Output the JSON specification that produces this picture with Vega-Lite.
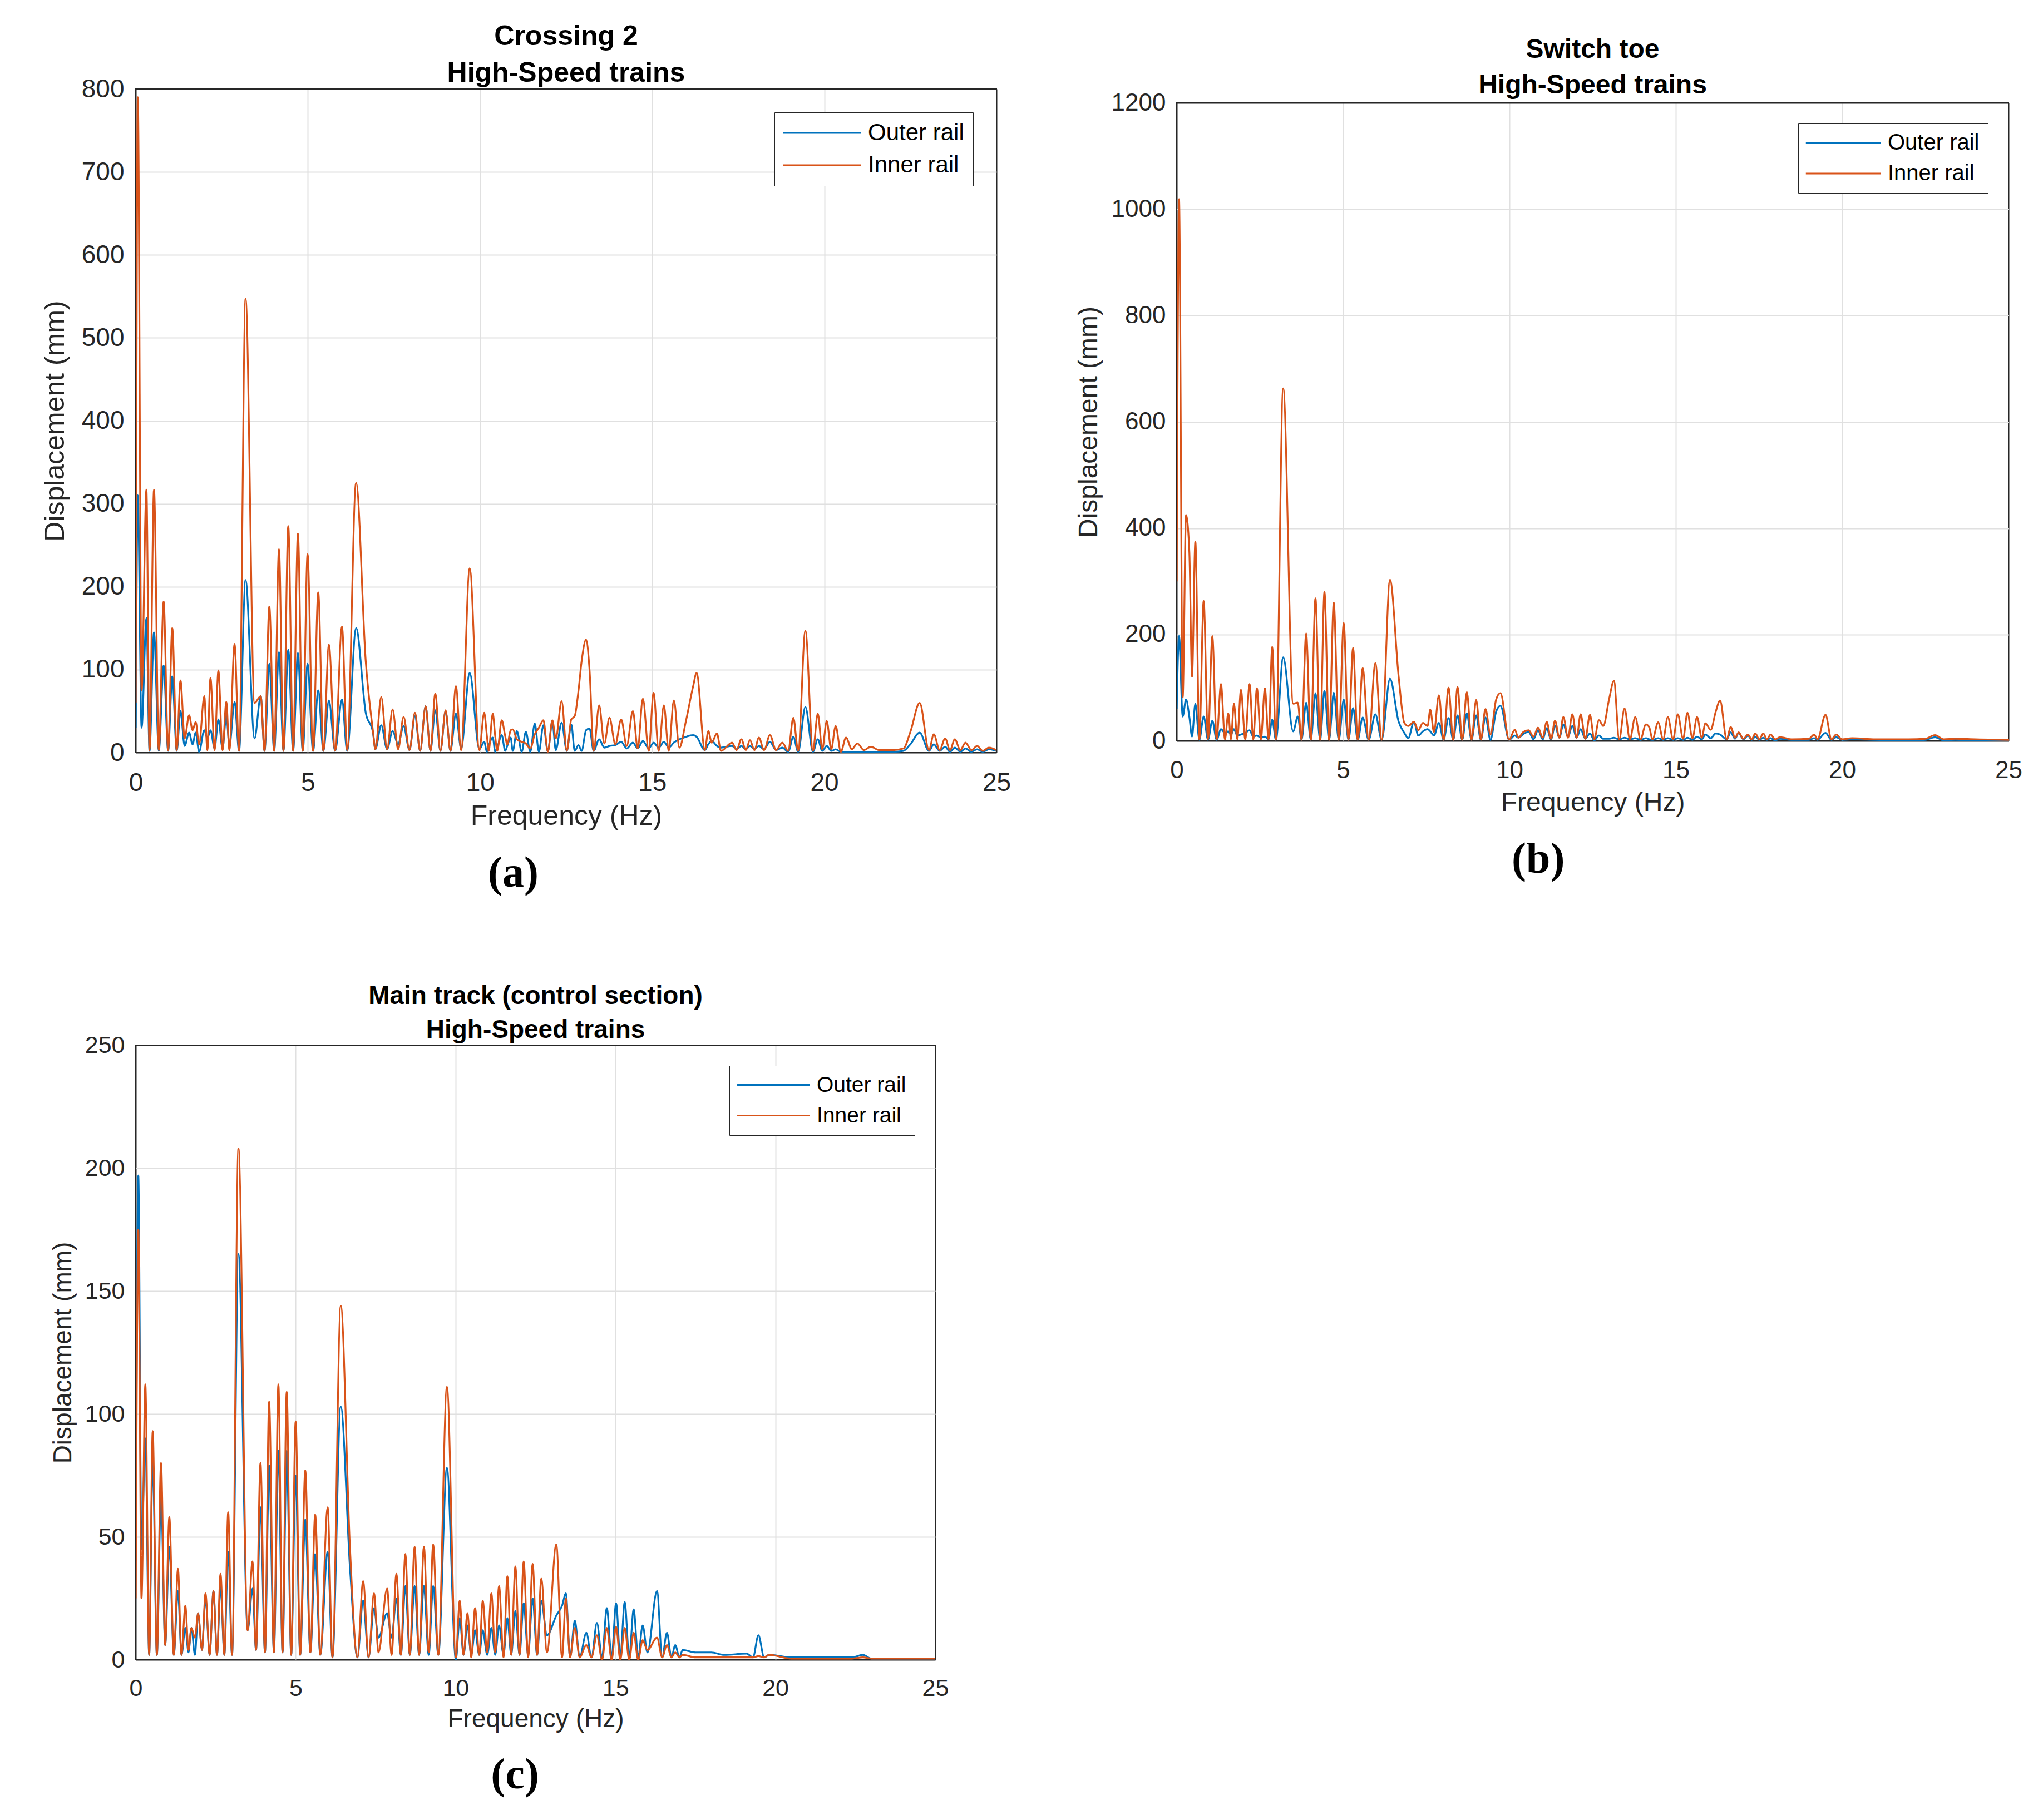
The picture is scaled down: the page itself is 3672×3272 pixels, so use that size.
{
"$schema":"https://vega.github.io/schema/vega-lite/v6.json",
"padding":{"left":73,"top":40,"right":20,"bottom":10},
"config":{
 "font":"Liberation Sans",
 "view":{"stroke":"#262626","strokeWidth":2},
 "axis":{"ticks":false,"domain":false,"grid":true,"gridWidth":2,"labelColor":"#262626","titleColor":"#262626","titleFontWeight":"normal","labelFont":"Liberation Sans","titleFont":"Liberation Sans","labelFlush":false},
 "title":{"font":"Liberation Sans","fontWeight":"bold","color":"#000000","anchor":"middle"},
 "legend":{"labelFont":"Liberation Sans","labelColor":"#000000","strokeColor":"#262626","fillColor":"#ffffff","cornerRadius":0,"symbolStrokeWidth":3,"labelLimit":0,"symbolType":"M-2.2,0H11.8"}
},
"datasets":{
"a":[{"f":0,"o":30,"i":60},{"f":0.06,"o":310,"i":790},{"f":0.17,"o":30,"i":75},{"f":0.31,"o":162,"i":317},{"f":0.40,"o":2,"i":3},{"f":0.53,"o":145,"i":317},{"f":0.67,"o":2,"i":3},{"f":0.81,"o":105,"i":182},{"f":0.94,"o":2,"i":3},{"f":1.06,"o":92,"i":150},{"f":1.19,"o":2,"i":3},{"f":1.30,"o":50,"i":87},{"f":1.42,"o":8,"i":17},{"f":1.55,"o":24,"i":45},{"f":1.65,"o":10,"i":27},{"f":1.74,"o":24,"i":37},{"f":1.84,"o":1,"i":10},{"f":1.99,"o":27,"i":68},{"f":2.08,"o":17,"i":3},{"f":2.17,"o":27,"i":90},{"f":2.29,"o":5,"i":3},{"f":2.40,"o":40,"i":99},{"f":2.52,"o":5,"i":3},{"f":2.63,"o":45,"i":61},{"f":2.72,"o":8,"i":3},{"f":2.87,"o":61,"i":131},{"f":3.00,"o":2,"i":2},{"f":3.19,"o":208,"i":547},{"f":3.45,"o":17,"i":60},{"f":3.63,"o":68,"i":68},{"f":3.74,"o":2,"i":2},{"f":3.88,"o":107,"i":176},{"f":4.02,"o":2,"i":2},{"f":4.16,"o":121,"i":245},{"f":4.29,"o":2,"i":2},{"f":4.43,"o":124,"i":273},{"f":4.57,"o":2,"i":2},{"f":4.71,"o":120,"i":264},{"f":4.85,"o":2,"i":2},{"f":4.99,"o":107,"i":239},{"f":5.15,"o":2,"i":2},{"f":5.30,"o":75,"i":193},{"f":5.45,"o":2,"i":2},{"f":5.61,"o":63,"i":130},{"f":5.79,"o":2,"i":2},{"f":5.99,"o":64,"i":152},{"f":6.14,"o":2,"i":3},{"f":6.40,"o":150,"i":325},{"f":6.68,"o":48,"i":110},{"f":6.89,"o":24,"i":26},{"f":6.96,"o":4,"i":4},{"f":7.13,"o":33,"i":67},{"f":7.30,"o":4,"i":4},{"f":7.46,"o":26,"i":52},{"f":7.62,"o":10,"i":4},{"f":7.78,"o":32,"i":43},{"f":7.95,"o":3,"i":3},{"f":8.11,"o":44,"i":48},{"f":8.26,"o":2,"i":2},{"f":8.42,"o":56,"i":56},{"f":8.56,"o":2,"i":2},{"f":8.70,"o":51,"i":71},{"f":8.85,"o":2,"i":2},{"f":9.00,"o":50,"i":51},{"f":9.14,"o":2,"i":2},{"f":9.30,"o":47,"i":80},{"f":9.45,"o":5,"i":3},{"f":9.70,"o":96,"i":222},{"f":9.98,"o":4,"i":3},{"f":10.12,"o":13,"i":48},{"f":10.20,"o":1,"i":20},{"f":10.25,"o":8,"i":2},{"f":10.37,"o":18,"i":47},{"f":10.44,"o":1,"i":20},{"f":10.50,"o":6,"i":2},{"f":10.63,"o":21,"i":39},{"f":10.73,"o":2,"i":20},{"f":10.79,"o":8,"i":10},{"f":10.89,"o":18,"i":27},{"f":10.95,"o":2,"i":28},{"f":11.07,"o":26,"i":16},{"f":11.21,"o":1,"i":13},{"f":11.33,"o":25,"i":11},{"f":11.46,"o":1,"i":5},{"f":11.59,"o":35,"i":22},{"f":11.71,"o":1,"i":30},{"f":11.84,"o":33,"i":39},{"f":11.97,"o":1,"i":1},{"f":12.10,"o":38,"i":39},{"f":12.20,"o":3,"i":17},{"f":12.37,"o":36,"i":62},{"f":12.52,"o":2,"i":2},{"f":12.65,"o":34,"i":40},{"f":12.75,"o":2,"i":44},{"f":12.86,"o":9,"i":75},{"f":12.95,"o":2,"i":110},{"f":13.08,"o":27,"i":136},{"f":13.18,"o":29,"i":100},{"f":13.30,"o":2,"i":2},{"f":13.46,"o":16,"i":57},{"f":13.61,"o":6,"i":11},{"f":13.76,"o":8,"i":42},{"f":13.93,"o":9,"i":10},{"f":14.10,"o":13,"i":40},{"f":14.26,"o":5,"i":8},{"f":14.44,"o":12,"i":50},{"f":14.58,"o":5,"i":5},{"f":14.73,"o":14,"i":65},{"f":14.90,"o":5,"i":2},{"f":15.04,"o":12,"i":72},{"f":15.19,"o":6,"i":2},{"f":15.34,"o":13,"i":57},{"f":15.48,"o":6,"i":2},{"f":15.63,"o":12,"i":63},{"f":15.79,"o":16,"i":6},{"f":15.98,"o":19,"i":38},{"f":16.19,"o":21,"i":80},{"f":16.29,"o":19,"i":96},{"f":16.53,"o":3,"i":3},{"f":16.63,"o":10,"i":26},{"f":16.73,"o":14,"i":12},{"f":16.88,"o":8,"i":23},{"f":17.00,"o":6,"i":2},{"f":17.32,"o":8,"i":12},{"f":17.45,"o":4,"i":3},{"f":17.59,"o":8,"i":16},{"f":17.72,"o":4,"i":3},{"f":17.84,"o":8,"i":15},{"f":17.97,"o":4,"i":3},{"f":18.10,"o":8,"i":18},{"f":18.25,"o":4,"i":3},{"f":18.42,"o":13,"i":21},{"f":18.60,"o":3,"i":3},{"f":18.78,"o":6,"i":12},{"f":18.95,"o":1,"i":2},{"f":19.10,"o":19,"i":42},{"f":19.24,"o":1,"i":2},{"f":19.45,"o":55,"i":147},{"f":19.67,"o":1,"i":2},{"f":19.81,"o":16,"i":47},{"f":19.94,"o":2,"i":4},{"f":20.07,"o":8,"i":38},{"f":20.20,"o":2,"i":4},{"f":20.33,"o":4,"i":32},{"f":20.48,"o":1,"i":1},{"f":20.63,"o":1,"i":18},{"f":20.80,"o":1,"i":4},{"f":20.96,"o":1,"i":11},{"f":21.15,"o":1,"i":3},{"f":21.35,"o":1,"i":7},{"f":21.60,"o":1,"i":3},{"f":22.00,"o":1,"i":3},{"f":22.30,"o":2,"i":5},{"f":22.50,"o":10,"i":25},{"f":22.77,"o":24,"i":60},{"f":23.04,"o":2,"i":3},{"f":23.18,"o":10,"i":22},{"f":23.35,"o":2,"i":3},{"f":23.51,"o":7,"i":17},{"f":23.65,"o":1,"i":3},{"f":23.79,"o":6,"i":16},{"f":23.95,"o":1,"i":3},{"f":24.10,"o":5,"i":12},{"f":24.27,"o":1,"i":3},{"f":24.44,"o":4,"i":8},{"f":24.60,"o":1,"i":2},{"f":24.78,"o":4,"i":6},{"f":25,"o":2,"i":3}],
"b":[{"f":0,"o":60,"i":300},{"f":0.07,"o":197,"i":1019},{"f":0.18,"o":46,"i":82},{"f":0.28,"o":78,"i":425},{"f":0.38,"o":45,"i":355},{"f":0.46,"o":8,"i":121},{"f":0.56,"o":70,"i":375},{"f":0.68,"o":2,"i":3},{"f":0.81,"o":46,"i":263},{"f":0.94,"o":2,"i":3},{"f":1.07,"o":38,"i":197},{"f":1.20,"o":2,"i":3},{"f":1.33,"o":22,"i":107},{"f":1.45,"o":15,"i":3},{"f":1.55,"o":18,"i":52},{"f":1.63,"o":12,"i":3},{"f":1.72,"o":22,"i":70},{"f":1.82,"o":10,"i":3},{"f":1.93,"o":12,"i":96},{"f":2.06,"o":15,"i":3},{"f":2.19,"o":20,"i":107},{"f":2.30,"o":8,"i":3},{"f":2.41,"o":10,"i":99},{"f":2.53,"o":6,"i":3},{"f":2.65,"o":8,"i":99},{"f":2.76,"o":3,"i":3},{"f":2.87,"o":40,"i":177},{"f":2.98,"o":2,"i":2},{"f":3.20,"o":157,"i":663},{"f":3.50,"o":18,"i":70},{"f":3.64,"o":46,"i":72},{"f":3.75,"o":2,"i":2},{"f":3.89,"o":72,"i":202},{"f":4.03,"o":2,"i":2},{"f":4.17,"o":90,"i":268},{"f":4.31,"o":2,"i":2},{"f":4.44,"o":94,"i":280},{"f":4.58,"o":2,"i":2},{"f":4.72,"o":91,"i":260},{"f":4.87,"o":2,"i":2},{"f":5.02,"o":78,"i":222},{"f":5.16,"o":2,"i":2},{"f":5.30,"o":62,"i":175},{"f":5.44,"o":2,"i":2},{"f":5.59,"o":44,"i":137},{"f":5.77,"o":2,"i":2},{"f":5.97,"o":50,"i":146},{"f":6.16,"o":2,"i":2},{"f":6.41,"o":117,"i":303},{"f":6.67,"o":36,"i":121},{"f":6.84,"o":15,"i":34},{"f":6.96,"o":5,"i":28},{"f":7.13,"o":36,"i":36},{"f":7.26,"o":10,"i":20},{"f":7.40,"o":18,"i":34},{"f":7.54,"o":22,"i":28},{"f":7.62,"o":18,"i":59},{"f":7.73,"o":10,"i":17},{"f":7.88,"o":34,"i":86},{"f":8.02,"o":2,"i":2},{"f":8.17,"o":43,"i":100},{"f":8.31,"o":2,"i":2},{"f":8.44,"o":48,"i":101},{"f":8.58,"o":2,"i":2},{"f":8.72,"o":52,"i":92},{"f":8.86,"o":2,"i":2},{"f":9.00,"o":48,"i":77},{"f":9.14,"o":2,"i":2},{"f":9.28,"o":44,"i":60},{"f":9.43,"o":2,"i":12},{"f":9.60,"o":55,"i":78},{"f":9.73,"o":66,"i":90},{"f":9.99,"o":2,"i":2},{"f":10.16,"o":10,"i":21},{"f":10.27,"o":6,"i":6},{"f":10.42,"o":13,"i":17},{"f":10.58,"o":17,"i":20},{"f":10.72,"o":3,"i":8},{"f":10.86,"o":20,"i":25},{"f":11.00,"o":3,"i":6},{"f":11.12,"o":24,"i":36},{"f":11.25,"o":3,"i":4},{"f":11.37,"o":29,"i":38},{"f":11.50,"o":6,"i":6},{"f":11.62,"o":31,"i":45},{"f":11.76,"o":8,"i":6},{"f":11.89,"o":28,"i":50},{"f":12.02,"o":6,"i":6},{"f":12.14,"o":22,"i":50},{"f":12.28,"o":4,"i":4},{"f":12.42,"o":14,"i":49},{"f":12.55,"o":1,"i":3},{"f":12.69,"o":10,"i":39},{"f":12.82,"o":4,"i":28},{"f":13.00,"o":4,"i":80},{"f":13.14,"o":6,"i":113},{"f":13.30,"o":3,"i":3},{"f":13.46,"o":6,"i":61},{"f":13.62,"o":3,"i":3},{"f":13.78,"o":5,"i":45},{"f":13.94,"o":2,"i":3},{"f":14.10,"o":5,"i":31},{"f":14.20,"o":3,"i":26},{"f":14.30,"o":2,"i":3},{"f":14.47,"o":5,"i":35},{"f":14.62,"o":2,"i":3},{"f":14.76,"o":5,"i":45},{"f":14.92,"o":2,"i":3},{"f":15.06,"o":5,"i":50},{"f":15.22,"o":2,"i":4},{"f":15.35,"o":6,"i":53},{"f":15.50,"o":2,"i":5},{"f":15.64,"o":8,"i":45},{"f":15.78,"o":3,"i":6},{"f":15.89,"o":12,"i":33},{"f":16.05,"o":5,"i":21},{"f":16.20,"o":14,"i":55},{"f":16.33,"o":12,"i":76},{"f":16.53,"o":3,"i":3},{"f":16.65,"o":16,"i":26},{"f":16.78,"o":4,"i":6},{"f":16.89,"o":15,"i":16},{"f":17.03,"o":3,"i":4},{"f":17.17,"o":10,"i":12},{"f":17.28,"o":2,"i":3},{"f":17.39,"o":8,"i":14},{"f":17.51,"o":2,"i":3},{"f":17.63,"o":6,"i":14},{"f":17.74,"o":2,"i":3},{"f":17.85,"o":5,"i":12},{"f":17.99,"o":1,"i":3},{"f":18.13,"o":4,"i":7},{"f":18.50,"o":2,"i":3},{"f":19.00,"o":2,"i":4},{"f":19.16,"o":5,"i":12},{"f":19.26,"o":2,"i":3},{"f":19.50,"o":15,"i":49},{"f":19.68,"o":2,"i":3},{"f":19.82,"o":7,"i":12},{"f":20.00,"o":2,"i":3},{"f":20.30,"o":3,"i":5},{"f":21.00,"o":2,"i":3},{"f":22.00,"o":1,"i":3},{"f":22.50,"o":2,"i":4},{"f":22.79,"o":7,"i":11},{"f":23.05,"o":1,"i":3},{"f":23.40,"o":2,"i":4},{"f":24.00,"o":1,"i":3},{"f":25,"o":1,"i":2}],
"c":[{"f":0,"o":40,"i":25},{"f":0.08,"o":197,"i":175},{"f":0.18,"o":45,"i":25},{"f":0.30,"o":90,"i":112},{"f":0.42,"o":2,"i":2},{"f":0.53,"o":82,"i":93},{"f":0.66,"o":2,"i":2},{"f":0.79,"o":67,"i":80},{"f":0.92,"o":6,"i":6},{"f":1.05,"o":46,"i":58},{"f":1.19,"o":2,"i":2},{"f":1.32,"o":28,"i":37},{"f":1.43,"o":2,"i":2},{"f":1.55,"o":13,"i":22},{"f":1.65,"o":3,"i":4},{"f":1.74,"o":13,"i":13},{"f":1.85,"o":2,"i":9},{"f":1.95,"o":19,"i":19},{"f":2.07,"o":4,"i":4},{"f":2.18,"o":25,"i":27},{"f":2.31,"o":2,"i":2},{"f":2.43,"o":28,"i":28},{"f":2.54,"o":2,"i":2},{"f":2.65,"o":30,"i":35},{"f":2.77,"o":2,"i":2},{"f":2.89,"o":44,"i":60},{"f":3.01,"o":2,"i":2},{"f":3.21,"o":165,"i":208},{"f":3.50,"o":12,"i":12},{"f":3.65,"o":29,"i":40},{"f":3.76,"o":4,"i":4},{"f":3.90,"o":62,"i":80},{"f":4.04,"o":3,"i":3},{"f":4.17,"o":79,"i":105},{"f":4.32,"o":3,"i":3},{"f":4.46,"o":85,"i":112},{"f":4.59,"o":3,"i":3},{"f":4.72,"o":85,"i":109},{"f":4.86,"o":2,"i":2},{"f":5.00,"o":75,"i":97},{"f":5.14,"o":2,"i":2},{"f":5.30,"o":57,"i":77},{"f":5.46,"o":3,"i":3},{"f":5.61,"o":43,"i":59},{"f":5.77,"o":2,"i":2},{"f":6.00,"o":44,"i":62},{"f":6.15,"o":1,"i":1},{"f":6.41,"o":103,"i":144},{"f":6.70,"o":37,"i":45},{"f":6.93,"o":1,"i":1},{"f":7.11,"o":24,"i":32},{"f":7.28,"o":1,"i":1},{"f":7.45,"o":21,"i":27},{"f":7.59,"o":9,"i":3},{"f":7.86,"o":19,"i":29},{"f":8.00,"o":9,"i":2},{"f":8.15,"o":25,"i":35},{"f":8.29,"o":2,"i":2},{"f":8.43,"o":30,"i":43},{"f":8.57,"o":2,"i":2},{"f":8.72,"o":30,"i":46},{"f":8.86,"o":2,"i":2},{"f":9.01,"o":30,"i":46},{"f":9.16,"o":2,"i":3},{"f":9.30,"o":30,"i":47},{"f":9.46,"o":2,"i":2},{"f":9.73,"o":78,"i":111},{"f":10.01,"o":0,"i":1},{"f":10.13,"o":17,"i":24},{"f":10.25,"o":2,"i":2},{"f":10.37,"o":14,"i":19},{"f":10.49,"o":2,"i":1},{"f":10.61,"o":12,"i":21},{"f":10.74,"o":2,"i":2},{"f":10.85,"o":12,"i":24},{"f":10.99,"o":2,"i":3},{"f":11.12,"o":13,"i":27},{"f":11.24,"o":2,"i":3},{"f":11.36,"o":14,"i":30},{"f":11.50,"o":2,"i":1},{"f":11.62,"o":17,"i":34},{"f":11.74,"o":2,"i":2},{"f":11.87,"o":20,"i":38},{"f":12.00,"o":2,"i":2},{"f":12.13,"o":23,"i":40},{"f":12.27,"o":2,"i":1},{"f":12.41,"o":25,"i":39},{"f":12.55,"o":2,"i":2},{"f":12.68,"o":24,"i":33},{"f":12.86,"o":10,"i":3},{"f":13.15,"o":18,"i":47},{"f":13.33,"o":22,"i":1},{"f":13.45,"o":27,"i":25},{"f":13.58,"o":1,"i":1},{"f":13.73,"o":16,"i":13},{"f":13.88,"o":1,"i":1},{"f":14.09,"o":11,"i":6},{"f":14.25,"o":1,"i":1},{"f":14.42,"o":15,"i":10},{"f":14.58,"o":1,"i":0},{"f":14.73,"o":21,"i":13},{"f":14.88,"o":1,"i":0},{"f":15.02,"o":23,"i":13.5},{"f":15.15,"o":1,"i":0},{"f":15.29,"o":23.5,"i":13},{"f":15.43,"o":1,"i":0},{"f":15.57,"o":20.5,"i":11},{"f":15.71,"o":1,"i":0},{"f":15.85,"o":14,"i":8},{"f":16.00,"o":3,"i":4},{"f":16.30,"o":28,"i":9},{"f":16.46,"o":1,"i":1},{"f":16.61,"o":11,"i":6},{"f":16.75,"o":1,"i":1},{"f":16.87,"o":6,"i":3},{"f":17.00,"o":1,"i":1},{"f":17.10,"o":4,"i":2},{"f":17.50,"o":3,"i":1},{"f":18.00,"o":3,"i":1},{"f":18.40,"o":2,"i":1},{"f":19.10,"o":2.5,"i":1},{"f":19.30,"o":1,"i":1},{"f":19.47,"o":10,"i":1.5},{"f":19.65,"o":1,"i":1},{"f":19.80,"o":2,"i":2},{"f":20.50,"o":1,"i":0.5},{"f":22.40,"o":1,"i":0.5},{"f":22.74,"o":2,"i":1},{"f":23.00,"o":0.5,"i":0.5},{"f":25,"o":0.5,"i":0.5}]
},
"vconcat":[
 {"hconcat":[
  {"vconcat":[
   {"width":1547,"height":1193,
    "data":{"name":"a"},
    "transform":[{"fold":["o","i"],"as":["s","v"]}],
    "title":{"text":["Crossing 2","High-Speed trains"],"fontSize":50,"lineHeight":66,"offset":-20},
    "mark":{"type":"line","interpolate":"monotone","strokeWidth":3.2,"clip":true},
    "encoding":{
     "x":{"field":"f","type":"quantitative","scale":{"domain":[0,25],"nice":false,"zero":false},"axis":{"values":[0,5,10,15,20,25],"gridColor":{"condition":{"test":"datum.value == 0 || datum.value == 25","value":"#262626"},"value":"#e0e0e0"},"title":"Frequency (Hz)","labelFontSize":46,"titleFontSize":50,"labelPadding":32,"titlePadding":12}},
     "y":{"field":"v","type":"quantitative","scale":{"domain":[0,800],"nice":false},"axis":{"values":[0,100,200,300,400,500,600,700,800],"format":"d","gridColor":{"condition":{"test":"datum.value == 0 || datum.value == 800","value":"#262626"},"value":"#e0e0e0"},"title":"Displacement (mm)","labelFontSize":46,"titleFontSize":50,"labelPadding":21,"titlePadding":22}},
     "color":{"field":"s","type":"nominal","scale":{"domain":["o","i"],"range":["#0072BD","#D95319"]},"legend":{"title":null,"orient":"top-right","offset":42,"labelExpr":"datum.label == 'o' ? 'Outer rail' : 'Inner rail'","labelFontSize":42,"symbolSize":400,"labelOffset":110,"padding":16,"rowPadding":16}}
    }}
  ],
  "title":{"text":"(a)","orient":"bottom","anchor":"middle","frame":"bounds","font":"Liberation Serif","fontSize":78,"fontWeight":"bold","color":"#000000","offset":39,"dx":-23},
  "resolve":{"scale":{"color":"independent","x":"independent","y":"independent"},"legend":{"color":"independent"}}
  },
  {"vconcat":[
    {"width":1495,"height":1147,
     "data":{"name":"b"},
     "transform":[{"fold":["o","i"],"as":["s","v"]}],
     "title":{"text":["Switch toe","High-Speed trains"],"fontSize":48,"lineHeight":64,"offset":-15},
     "mark":{"type":"line","interpolate":"monotone","strokeWidth":3.2,"clip":true},
     "encoding":{
      "x":{"field":"f","type":"quantitative","scale":{"domain":[0,25],"nice":false,"zero":false},"axis":{"values":[0,5,10,15,20,25],"gridColor":{"condition":{"test":"datum.value == 0 || datum.value == 25","value":"#262626"},"value":"#e0e0e0"},"title":"Frequency (Hz)","labelFontSize":44,"titleFontSize":48,"labelPadding":31,"titlePadding":12}},
      "y":{"field":"v","type":"quantitative","scale":{"domain":[0,1200],"nice":false},"axis":{"values":[0,200,400,600,800,1000,1200],"format":"d","gridColor":{"condition":{"test":"datum.value == 0 || datum.value == 1200","value":"#262626"},"value":"#e0e0e0"},"title":"Displacement (mm)","labelFontSize":44,"titleFontSize":48,"labelPadding":20,"titlePadding":16}},
      "color":{"field":"s","type":"nominal","scale":{"domain":["o","i"],"range":["#0072BD","#D95319"]},"legend":{"title":null,"orient":"top-right","offset":37,"labelExpr":"datum.label == 'o' ? 'Outer rail' : 'Inner rail'","labelFontSize":40,"symbolSize":372,"labelOffset":106,"padding":15,"rowPadding":15}}
     }}
  ],
  "title":{"text":"(b)","orient":"bottom","anchor":"middle","frame":"bounds","font":"Liberation Serif","fontSize":78,"fontWeight":"bold","color":"#000000","offset":39,"dx":-19},
  "resolve":{"scale":{"color":"independent","x":"independent","y":"independent"},"legend":{"color":"independent"}}
  }
 ],
 "spacing":114,
 "center":true,
 "resolve":{"scale":{"color":"independent","x":"independent","y":"independent"},"legend":{"color":"independent"}}
 },
 {"hconcat":[
  {"vconcat":[
   {"width":1437,"height":1105,
    "data":{"name":"c"},
    "transform":[{"fold":["o","i"],"as":["s","v"]}],
    "title":{"text":["Main track (control section)","High-Speed trains"],"fontSize":46,"lineHeight":61,"offset":-18},
    "mark":{"type":"line","interpolate":"monotone","strokeWidth":3.2,"clip":true},
    "encoding":{
     "x":{"field":"f","type":"quantitative","scale":{"domain":[0,25],"nice":false,"zero":false},"axis":{"values":[0,5,10,15,20,25],"gridColor":{"condition":{"test":"datum.value == 0 || datum.value == 25","value":"#262626"},"value":"#e0e0e0"},"title":"Frequency (Hz)","labelFontSize":43,"titleFontSize":46,"labelPadding":30,"titlePadding":11}},
     "y":{"field":"v","type":"quantitative","scale":{"domain":[0,250],"nice":false},"axis":{"values":[0,50,100,150,200,250],"format":"d","gridColor":{"condition":{"test":"datum.value == 0 || datum.value == 250","value":"#262626"},"value":"#e0e0e0"},"title":"Displacement (mm)","labelFontSize":43,"titleFontSize":46,"labelPadding":20,"titlePadding":15}},
     "color":{"field":"s","type":"nominal","scale":{"domain":["o","i"],"range":["#0072BD","#D95319"]},"legend":{"title":null,"orient":"top-right","offset":37,"labelExpr":"datum.label == 'o' ? 'Outer rail' : 'Inner rail'","labelFontSize":39,"symbolSize":346,"labelOffset":103,"padding":15,"rowPadding":15}}
    }}
  ],
  "title":{"text":"(c)","orient":"bottom","anchor":"middle","frame":"bounds","font":"Liberation Serif","fontSize":78,"fontWeight":"bold","color":"#000000","offset":39,"dx":28},
  "resolve":{"scale":{"color":"independent","x":"independent","y":"independent"},"legend":{"color":"independent"}}
  }
 ],
 "resolve":{"scale":{"color":"independent","x":"independent","y":"independent"},"legend":{"color":"independent"}}
 }
],
"spacing":157,
"resolve":{"scale":{"color":"independent","x":"independent","y":"independent"},"legend":{"color":"independent"}}
}
